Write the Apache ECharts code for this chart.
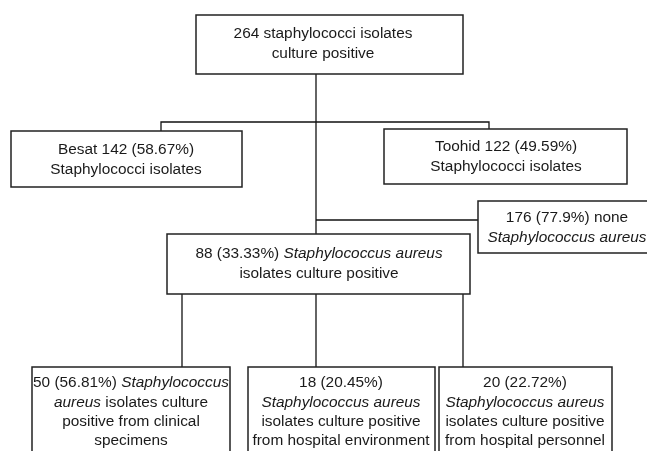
<!DOCTYPE html>
<html>
<head>
<meta charset="utf-8">
<script src="https://cdn.jsdelivr.net/npm/echarts@6/dist/echarts.min.js"></script>
<style>
  html, body { margin: 0; padding: 0; background: #fff; }
  #chart { width: 647px; height: 451px; }
</style>
</head>
<body>
<div id="chart"></div>
<script>
// node ids and their text ({i|...} = italic)
const nodeIds = ["total", "besat", "toohid", "none", "aureus", "clinical", "environment", "personnel"];
const nodeLabels = [
  "264 staphylococci isolates\nculture positive",
  "Besat 142 (58.67%)\nStaphylococci isolates",
  "Toohid 122 (49.59%)\nStaphylococci isolates",
  "176 (77.9%) none\n{i|Staphylococcus aureus}",
  "88 (33.33%) {i|Staphylococcus aureus}\nisolates culture positive",
  "50 (56.81%) {i|Staphylococcus}\n{i|aureus} isolates culture\npositive from clinical\nspecimens",
  "18 (20.45%)\n{i|Staphylococcus aureus}\nisolates culture positive\nfrom hospital environment",
  "20 (22.72%)\n{i|Staphylococcus aureus}\nisolates culture positive\nfrom hospital personnel",
];

// box layout: x, y, width, height, text centre x, first line y
const layout = {
  total: [196, 15, 267, 59, 323, 34],
  besat: [11, 131, 231, 56, 126, 150],
  toohid: [384, 129, 243, 55, 506, 147],
  none: [478, 201, 200, 52, 567, 218],
  aureus: [167, 234, 303, 60, 319, 254],
  clinical: [32, 367, 198, 120, 131, 383],
  environment: [248, 367, 187, 120, 341, 383],
  personnel: [439, 367, 173, 120, 525, 383],
};

// connector paths
const connectors = [
  [[316, 74], [316, 367]],
  [[161, 131], [161, 122], [489, 122], [489, 129]],
  [[316, 220], [478, 220]],
  [[182, 294], [182, 367]],
  [[463, 294], [463, 367]],
];

const fontSize = 15.4;
const lineHeight = 19.3;
const fontFamily = "Liberation Sans, Arial, sans-serif";
const ink = "#1a1a1a";

const graphic = [];
connectors.forEach((pts) => {
  graphic.push({
    type: "polyline",
    z: 1,
    shape: { points: pts },
    style: { stroke: "#111", lineWidth: 1.3, fill: null },
  });
});

nodeIds.forEach((id, i) => {
  const [x, y, w, h, cx, ty] = layout[id];
  graphic.push({
    type: "rect",
    z: 2,
    shape: { x: x, y: y, width: w, height: h },
    style: { fill: "#fff", stroke: "#222", lineWidth: 1.5 },
  });
  graphic.push({
    type: "text",
    z: 3,
    x: cx,
    y: ty - lineHeight / 2,
    style: {
      text: nodeLabels[i],
      align: "center",
      verticalAlign: "top",
      fontSize: fontSize,
      fontFamily: fontFamily,
      lineHeight: lineHeight,
      fill: ink,
      rich: {
        i: { fontStyle: "italic", fontSize: fontSize, fontFamily: fontFamily, lineHeight: lineHeight, fill: ink },
      },
    },
  });
});

const chart = echarts.init(document.getElementById("chart"));
chart.setOption({
  backgroundColor: "#fff",
  animation: false,
  graphic: graphic,
});
</script>
</body>
</html>
